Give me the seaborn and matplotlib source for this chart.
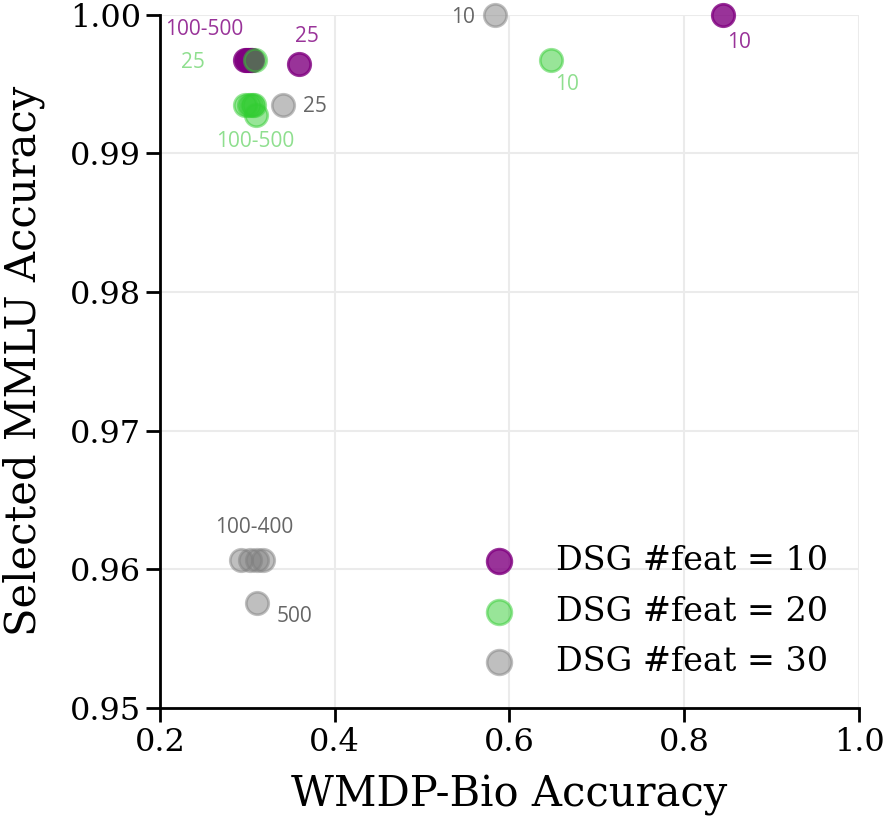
import numpy as np
import matplotlib.pyplot as plt
import pandas as pd
import seaborn as sns

# DSG #feat = 10
x10 = [0.298, 0.300, 0.302, 0.304, 0.306, 0.359, 0.844]
y10 = [0.99675, 0.99675, 0.99675, 0.99675, 0.99675, 0.99646, 1.0]
# DSG #feat = 20
x20 = [0.647, 0.309, 0.298, 0.302, 0.305, 0.308, 0.310]
y20 = [0.99675, 0.99675, 0.99351, 0.99351, 0.99351, 0.99351, 0.99279]
# DSG #feat = 30
x30 = [0.583, 0.341, 0.293, 0.303, 0.311, 0.318, 0.311]
y30 = [1.0, 0.9935, 0.9607, 0.9607, 0.9607, 0.9607, 0.95758]

# point labels: (text, x, y, offset in pixels)
labels10 = [("100-500", 0.302, 0.99675, (-45, 30)), ("25", 0.359, 0.99646, (8, 27)),
            ("10", 0.844, 1.0, (16, -28))]
labels20 = [("25", 0.309, 0.99675, (-62, -3)), ("100-500", 0.304, 0.9932, (4, -32)),
            ("10", 0.647, 0.99675, (16, -25))]
labels30 = [("25", 0.341, 0.9935, (32, -2)), ("10", 0.583, 1.0, (-32, -3)),
            ("100-400", 0.305, 0.9607, (3, 32)), ("500", 0.311, 0.95758, (38, -14))]

df = pd.DataFrame({
    "x": x10 + x20 + x30,
    "y": y10 + y20 + y30,
    "group": ["DSG #feat = 10"] * len(x10) + ["DSG #feat = 20"] * len(x20) + ["DSG #feat = 30"] * len(x30),
})

sns.set_style("ticks")
plt.rcParams["font.family"] = ["DejaVu Serif"]
for k in ["text.color", "axes.labelcolor", "xtick.color", "ytick.color", "axes.edgecolor"]:
    plt.rcParams[k] = "black"

fig = plt.figure(figsize=(8.83, 8.26), dpi=100)
ax = fig.add_axes([0.181, 0.143, 0.792, 0.839])

styles = {
    "DSG #feat = 10": ("#800080", 0.8),
    "DSG #feat = 20": ("#32cd32", 0.5),
    "DSG #feat = 30": ("#808080", 0.5),
}
for g, (c, a) in styles.items():
    sub = df[df.group == g]
    sns.scatterplot(data=sub, x="x", y="y", ax=ax, color=c, alpha=a, s=260,
                    edgecolor=c, linewidth=2, label=g, clip_on=False, zorder=3)

txt_colors = ["#993399", "#8fdf8f", "#666666"]
for labs, tc in zip([labels10, labels20, labels30], txt_colors):
    for t, x, y, off in labs:
        ax.annotate(t, (x, y), xytext=off, textcoords="offset pixels", color=tc,
                    fontsize=15, family="Open Sans", ha="center", va="center")

ax.set_xlim(0.2, 1.0)
ax.set_ylim(0.95, 1.0)
ax.set_xticks([0.2, 0.4, 0.6, 0.8, 1.0])
ax.set_yticks([0.95, 0.96, 0.97, 0.98, 0.99, 1.00])
ax.set_yticklabels(["0.95", "0.96", "0.97", "0.98", "0.99", "1.00"])
ax.grid(True, color="#ebebeb", linewidth=1.5)
ax.set_axisbelow(True)
ax.tick_params(labelsize=23, width=2, length=10)
for sp in ["left", "bottom"]:
    ax.spines[sp].set_linewidth(2)
sns.despine(ax=ax)
ax.set_xlabel("WMDP-Bio Accuracy", fontsize=30, labelpad=12)
ax.set_ylabel("Selected MMLU Accuracy", fontsize=30, labelpad=18)

ax.legend(loc="lower right", frameon=False, fontsize=24, handletextpad=0.7,
          labelspacing=0.55, markerscale=1.1, bbox_to_anchor=(0.998, 0.0))

fig.savefig("out.png", dpi=100)
